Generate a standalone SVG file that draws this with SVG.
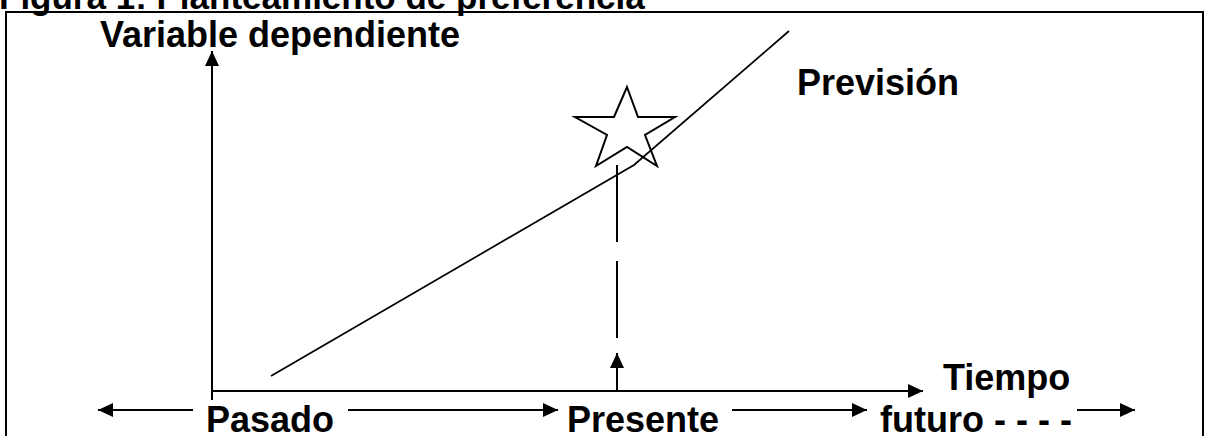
<svg xmlns="http://www.w3.org/2000/svg" width="1205" height="436" viewBox="0 0 1205 436">
<style>
.t{font-family:"Liberation Sans",Arial,sans-serif;font-weight:bold;font-size:36px;fill:#000}
.ln{stroke:#000;stroke-width:2;fill:none}
</style>
<defs>
<marker id="ah" markerWidth="16" markerHeight="14" refX="15" refY="7" orient="auto" markerUnits="userSpaceOnUse">
<path d="M0,0 L15,7 L0,14 Z" fill="#000"/>
</marker>
</defs>
<rect width="1205" height="436" fill="#fff"/>
<text class="t" x="-1" y="9" style="font-size:35px">Figura 1: Planteamiento de preferencia</text>
<rect x="6" y="12" width="1197" height="440" fill="none" stroke="#000" stroke-width="2"/>
<g id="labels">
<text class="t" x="100" y="47">Variable dependiente</text>
<text class="t" x="797" y="95">Previsión</text>
<text class="t" x="943" y="390">Tiempo</text>
<text class="t" x="206" y="432">Pasado</text>
<text class="t" x="567" y="432">Presente</text>
<text class="t" x="880" y="432">futuro - - - -</text>
</g>
<g id="star">
<polygon points="627,87 638,117 675,117 645,135 657,166 627,147 596,166 607,135 575,117 614,117" fill="none" stroke="#000" stroke-width="2"/>
</g>
<g id="connectors">
<line class="ln" x1="212" y1="400" x2="212" y2="51" marker-end="url(#ah)"/>
<line class="ln" x1="212" y1="391" x2="923" y2="391" marker-end="url(#ah)"/>
<line class="ln" x1="617" y1="391" x2="617" y2="353" marker-end="url(#ah)"/>
<line class="ln" x1="617" y1="165" x2="617" y2="338" stroke-dasharray="77,19"/>
<polyline points="271,376 634,165 789,31" fill="none" stroke="#000" stroke-width="1.7"/>
<line class="ln" x1="193" y1="410" x2="98" y2="410" marker-end="url(#ah)"/>
<line class="ln" x1="348" y1="410" x2="558" y2="410" marker-end="url(#ah)"/>
<line class="ln" x1="732" y1="410" x2="867" y2="410" marker-end="url(#ah)"/>
<line class="ln" x1="1077" y1="410" x2="1135" y2="410" marker-end="url(#ah)"/>
</g>
</svg>
